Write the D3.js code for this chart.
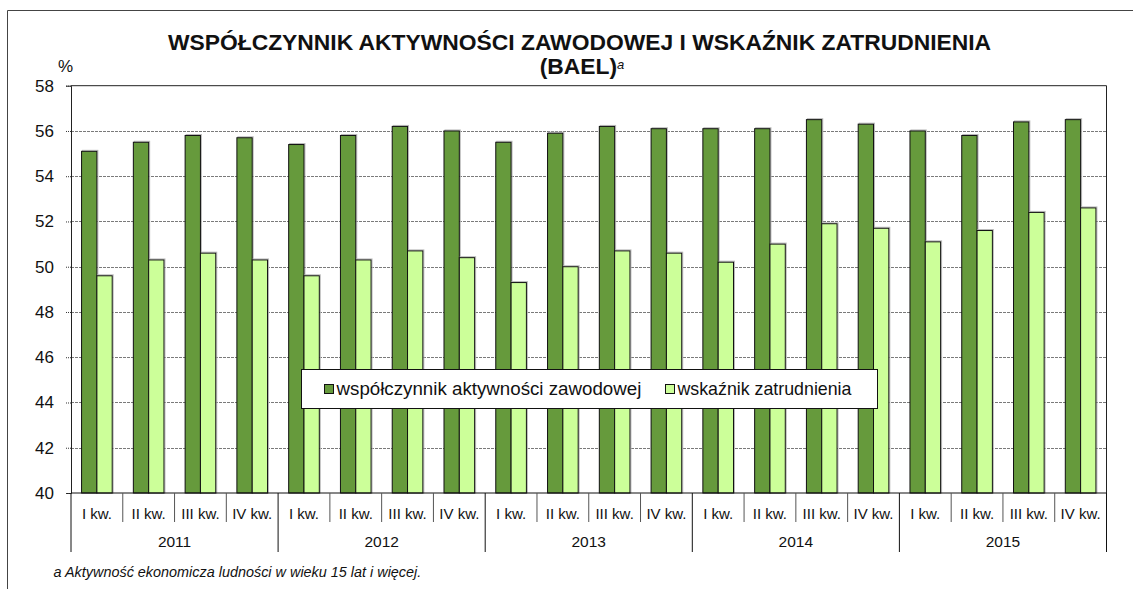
<!DOCTYPE html>
<html><head><meta charset="utf-8">
<script src="https://cdn.jsdelivr.net/npm/d3@7"></script>
<style>
html,body{margin:0;padding:0;background:#fff;}
svg{display:block;font-family:"Liberation Sans",Arial,sans-serif;}
</style></head>
<body>
<svg id="c" width="1133" height="589"></svg>
<script>
// ---- data ----
const years = ["2011","2012","2013","2014","2015"];
const quarters = ["I kw.","II kw.","III kw.","IV kw."];
const seriesNames = ["współczynnik aktywności zawodowej","wskaźnik zatrudnienia"];
const activityRate = [55.1,55.5,55.8,55.7, 55.4,55.8,56.2,56.0, 55.5,55.9,56.2,56.1, 56.1,56.1,56.5,56.3, 56.0,55.8,56.4,56.5];
const employmentRate = [49.6,50.3,50.6,50.3, 49.6,50.3,50.7,50.4, 49.3,50.0,50.7,50.6, 50.2,51.0,51.9,51.7, 51.1,51.6,52.4,52.6];
const yTicks = [40,42,44,46,48,50,52,54,56,58];
const titleLine1 = "WSPÓŁCZYNNIK AKTYWNOŚCI ZAWODOWEJ I WSKAŹNIK ZATRUDNIENIA";
const titleLine2 = "(BAEL)";
const footnote = "a Aktywność ekonomicza ludności w wieku 15 lat i więcej.";
const colors = ["#669a3c","#ccff99"];

// ---- build ----
const cats = [];
years.forEach(y => quarters.forEach(q => cats.push(y + "|" + q)));
const rows = cats.map((c,i) => ({key:c, year:c.split("|")[0], q:c.split("|")[1], vals:[activityRate[i], employmentRate[i]]}));

const svg = d3.select("#c");
const L = 71, R = 1106.5, T = 85.7, B = 493;

const x = d3.scaleBand().domain(cats).range([L,R]).paddingInner(0).paddingOuter(0);
const x1 = d3.scaleBand().domain([0,1]).range([0, x.bandwidth()]).paddingInner(0).paddingOuter(0.69);
const y = d3.scaleLinear().domain([40,58]).range([B,T]);

function fit(sel, w){
  const l = sel.node().getComputedTextLength();
  const fs = parseFloat(sel.attr("font-size"));
  sel.attr("font-size", (fs*w/l).toFixed(2));
}

// outer frame
svg.append("path").attr("d", `M7.5,589 V10.5 H1133`).attr("fill","none").attr("stroke","#444").attr("stroke-width",1);

// gridlines
svg.append("g").selectAll("line").data(yTicks.filter(t => t>40 && t<58)).join("line")
  .attr("x1",L).attr("x2",R).attr("y1",d=>Math.round(y(d))+0.5).attr("y2",d=>Math.round(y(d))+0.5)
  .attr("stroke","#7a7a7a").attr("stroke-width",1).attr("stroke-dasharray","3,1");

// bars
const g = svg.append("g");
rows.forEach(r => {
  r.vals.forEach((v,si) => {
    const bx = x(r.key) + x1(si);
    // soft shadow
    g.append("rect").attr("x", bx+1).attr("y", y(v)-1).attr("width", x1.bandwidth()).attr("height", B - y(v)+1)
      .attr("fill","none").attr("stroke","#bbb").attr("stroke-width",1);
    g.append("rect").attr("x", bx).attr("y", y(v)).attr("width", x1.bandwidth()).attr("height", B - y(v))
      .attr("fill", colors[si]).attr("stroke","#111").attr("stroke-width",1);
  });
});

// plot border (top & right)
svg.append("path").attr("d", `M${L},${T} H${R} V${B}`).attr("fill","none").attr("stroke","#222").attr("stroke-width",1);

// y axis
const ya = svg.append("g").attr("transform",`translate(${L},0)`)
  .call(d3.axisLeft(y).tickValues(yTicks).tickSize(5).tickPadding(12).tickFormat(d3.format("d")));
ya.select(".domain").attr("stroke","#222");
ya.selectAll(".tick line").attr("stroke","#333").attr("stroke-dasharray","1,1");
ya.selectAll(".tick text").attr("font-size",17).attr("font-family","Liberation Sans, Arial, sans-serif").attr("fill","#111");

// x axis baseline
svg.append("line").attr("x1",L).attr("x2",R).attr("y1",B).attr("y2",B).attr("stroke","#111");

// quarter separators & labels
const bounds = cats.map(c => x(c)).concat([R]);
svg.append("g").selectAll("line").data(bounds).join("line")
  .attr("x1",d=>d).attr("x2",d=>d).attr("y1",B)
  .attr("y2",(d,i)=> (i%4===0) ? 552 : 522)
  .attr("stroke",(d,i)=> (i%4===0) ? "#111" : "#555").attr("stroke-width",1);

svg.append("g").selectAll("text").data(rows).join("text")
  .attr("x", d => x(d.key) + x.bandwidth()/2).attr("y", 518.5)
  .attr("text-anchor","middle").attr("font-size",15).attr("fill","#111")
  .text(d => d.q);

svg.append("g").selectAll("text").data(years).join("text")
  .attr("x", yr => (x(yr+"|"+quarters[0]) + x(yr+"|"+quarters[3]) + x.bandwidth())/2).attr("y", 547)
  .attr("text-anchor","middle").attr("font-size",15.5).attr("fill","#111")
  .text(yr => yr);

// title
const t1 = svg.append("text").attr("x",579.5).attr("y",49.5).attr("text-anchor","middle")
  .attr("font-weight","bold").attr("font-size",20).attr("fill","#111").text(titleLine1);
fit(t1, 823);
const t2 = svg.append("text").attr("x",582).attr("y",74).attr("text-anchor","middle")
  .attr("font-weight","bold").attr("font-size",t1.attr("font-size")).attr("fill","#111");
t2.append("tspan").text(titleLine2);
t2.append("tspan").attr("font-style","italic").attr("font-weight","normal").attr("font-size",13).attr("dy",-5).text("a");

// % label
svg.append("text").attr("x",65.5).attr("y",72).attr("text-anchor","middle").attr("font-size",17).attr("fill","#111").text("%");

// legend
const lg = svg.append("g");
lg.append("rect").attr("x",301.5).attr("y",369.5).attr("width",576).attr("height",39).attr("fill","#fff").attr("stroke","#111");
const legendX = [324.5, 665.5];
const legendW = [305, 174];
seriesNames.forEach((n,i) => {
  lg.append("rect").attr("x",legendX[i]).attr("y",384.5).attr("width",9).attr("height",9).attr("fill",colors[i]).attr("stroke","#111");
  const tt = lg.append("text").attr("x",legendX[i]+12).attr("y",395).attr("font-size",17).attr("fill","#111").text(n);
  fit(tt, legendW[i]);
});

// footnote
const fn = svg.append("text").attr("x",53.5).attr("y",577).attr("font-style","italic").attr("font-size",15).attr("fill","#111").text(footnote);
fit(fn, 368);
</script>
</body></html>
